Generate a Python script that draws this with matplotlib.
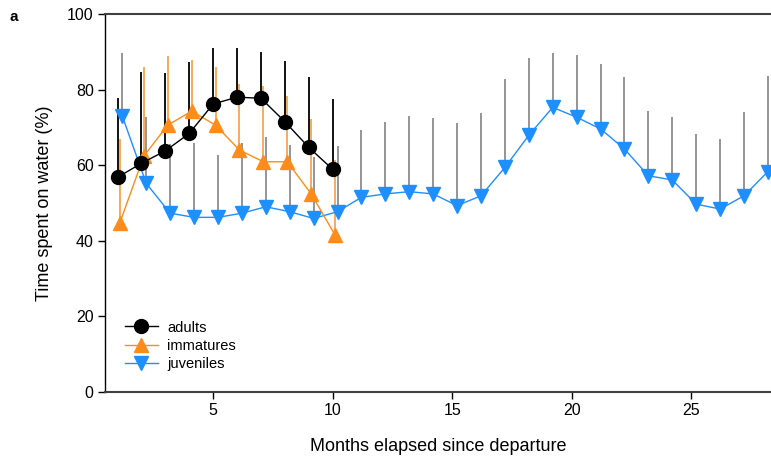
import numpy as np
import matplotlib
matplotlib.use("Agg")
import matplotlib.pyplot as plt

plt.rcParams['font.family'] = ['Liberation Sans', 'DejaVu Sans']

# months since departure
months_ad = [1, 2, 3, 4, 5, 6, 7, 8, 9, 10]
months_im = [1, 2, 3, 4, 5, 6, 7, 8, 9, 10]
months_juv = list(range(1, 29))

# mean time on water (%) and upper end of error bar
adults = [56.8, 60.5, 63.8, 68.4, 76.2, 78.0, 77.7, 71.5, 64.7, 58.9]
adults_up = [77.7, 84.7, 84.5, 87.4, 90.9, 90.9, 90.0, 87.6, 83.4, 77.5]

immatures = [44.8, 62.4, 70.6, 74.3, 70.6, 64.0, 60.9, 60.9, 52.4, 41.5]
immatures_up = [66.8, 86.1, 88.9, 87.8, 86.1, 81.6, 81.0, 78.3, 72.2, 61.4]

juveniles = [73.0, 55.2, 47.3, 46.2, 46.2, 47.3, 49.0, 47.7, 45.9, 47.7,
             51.5, 52.4, 53.0, 52.4, 49.3, 51.9, 59.4, 67.9, 75.3, 72.7,
             69.6, 64.3, 57.2, 56.1, 49.7, 48.4, 51.9, 58.3]
juveniles_up = [89.6, 72.8, 65.6, 66.0, 62.7, 65.8, 67.5, 65.3, 62.1, 65.2,
                69.3, 71.5, 73.1, 72.4, 71.1, 73.7, 82.8, 88.3, 89.6, 89.2,
                86.7, 83.4, 74.3, 72.8, 68.2, 66.8, 74.2, 83.6]

c_ad = 'black'
c_im = '#FF8C1A'
c_juv = '#1E8FFF'

fig = plt.figure(figsize=(7.71, 4.59), dpi=100)
ax = fig.add_axes([0.136, 0.146, 0.864, 0.8235])

x_ad = np.array(months_ad, dtype=float)
x_im = np.array(months_im, dtype=float) + 0.1
x_juv = np.array(months_juv, dtype=float) + 0.2

# one-sided (upper) error bars
ax.vlines(x_juv, juveniles, juveniles_up, color='#8c8c8c', lw=1.3, zorder=1)
ax.vlines(x_im, immatures, immatures_up, color='#F9A24E', lw=1.3, zorder=2)
ax.vlines(x_ad, adults, adults_up, color='black', lw=1.3, zorder=3)

ax.plot(x_ad, adults, color=c_ad, lw=1, marker='o', ms=10, label='adults', zorder=6)
ax.plot(x_im, immatures, color=c_im, lw=1, marker='^', ms=10, label='immatures', zorder=5)
ax.plot(x_juv, juveniles, color=c_juv, lw=1, marker='v', ms=10, label='juveniles', zorder=4)

ax.set_xlim(0.47, 28.33)
ax.set_ylim(0, 100)
ax.set_xticks([5, 10, 15, 20, 25])
ax.set_yticks([0, 20, 40, 60, 80, 100])
ax.tick_params(labelsize=11.5, length=5, width=1, direction='out', pad=3)

ax.spines['right'].set_visible(False)
ax.spines['top'].set_color('#404040')
ax.spines['top'].set_linewidth(1.5)
ax.spines['bottom'].set_color('#404040')
ax.spines['bottom'].set_linewidth(1.5)
ax.spines['left'].set_linewidth(1)

ax.set_xlabel('Months elapsed since departure', fontsize=13, labelpad=14)
ax.set_ylabel('Time spent on water (%)', fontsize=13, labelpad=10)

ax.legend(loc='lower left', bbox_to_anchor=(0.01, 0.02), frameon=False,
          fontsize=10.5, handlelength=2.3, handletextpad=0.6, labelspacing=0.3)

fig.text(0.012, 0.955, 'a', fontsize=11, fontweight='bold')

fig.savefig('out.png', dpi=100)
